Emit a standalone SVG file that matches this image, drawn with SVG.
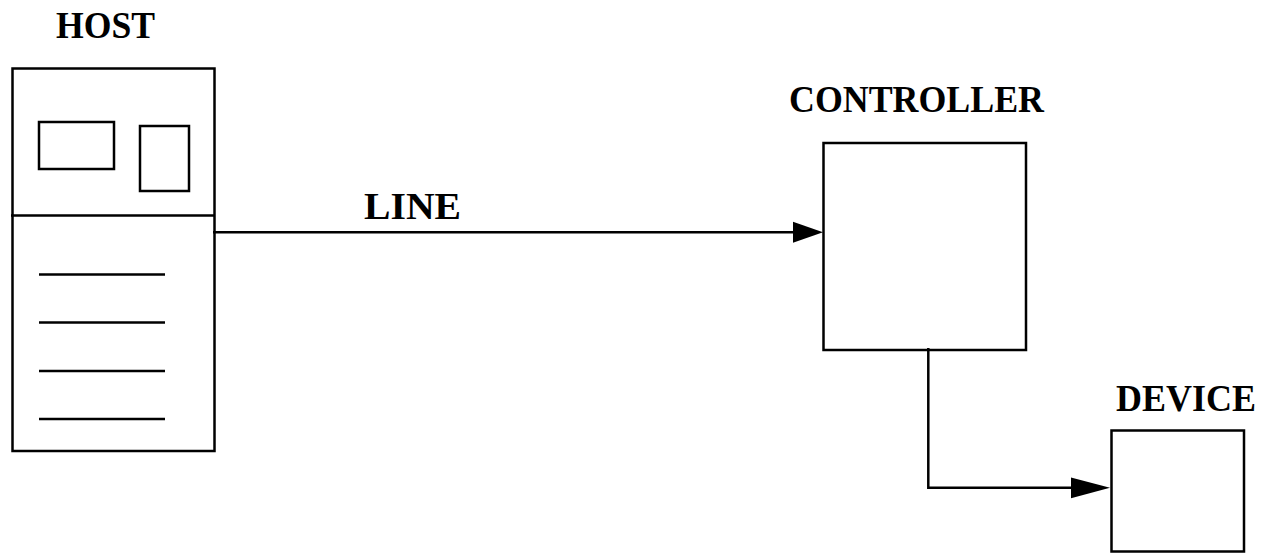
<svg xmlns="http://www.w3.org/2000/svg" width="1264" height="553" viewBox="0 0 1264 553">
  <style>
    .box { fill: #fff; stroke: #000; stroke-width: 2.5; }
    .part { fill: none; stroke: #000; stroke-width: 2.5; }
    .wire { fill: none; stroke: #000; stroke-width: 2.5; }
    .head { fill: #000; stroke: none; }
    .label { font-family: "Liberation Serif", "Times New Roman", serif; font-weight: bold; font-size: 37px; fill: #000; }
  </style>
  <rect width="1264" height="553" fill="#fff"/>

  <!-- Host computer: case with two panels and four slots -->
  <g id="host">
    <text class="label" x="56" y="37.5" textLength="99" lengthAdjust="spacingAndGlyphs">HOST</text>
    <rect class="box" x="12.5" y="68.5" width="202" height="382.5"/>
    <line class="part" x1="11" y1="215.5" x2="214.5" y2="215.5"/>
    <rect class="part" x="39" y="122" width="75" height="47"/>
    <rect class="part" x="140" y="126" width="49" height="65"/>
    <line class="part" x1="39" y1="274.5" x2="165" y2="274.5"/>
    <line class="part" x1="39" y1="322.5" x2="165" y2="322.5"/>
    <line class="part" x1="39" y1="371" x2="165" y2="371"/>
    <line class="part" x1="39" y1="419" x2="165" y2="419"/>
  </g>

  <!-- Controller -->
  <g id="controller">
    <text class="label" x="789" y="112" textLength="255" lengthAdjust="spacingAndGlyphs">CONTROLLER</text>
    <rect class="box" x="823.5" y="143" width="202.5" height="207"/>
  </g>

  <!-- Device -->
  <g id="device">
    <text class="label" x="1116" y="411" textLength="140" lengthAdjust="spacingAndGlyphs">DEVICE</text>
    <rect class="box" x="1111.5" y="430.5" width="132.5" height="121"/>
  </g>

  <!-- Connectors -->
  <g id="connectors">
    <line class="wire" x1="213" y1="232.3" x2="800" y2="232.3"/>
    <polygon class="head" points="823,232.3 793,221.8 793,242.8"/>
    <text class="label" x="364" y="219" textLength="97" lengthAdjust="spacingAndGlyphs">LINE</text>

    <polyline class="wire" points="928.3,348 928.3,487.8 1078,487.8"/>
    <polygon class="head" points="1110,487.8 1071,477.5 1071,498.2"/>
  </g>
</svg>
